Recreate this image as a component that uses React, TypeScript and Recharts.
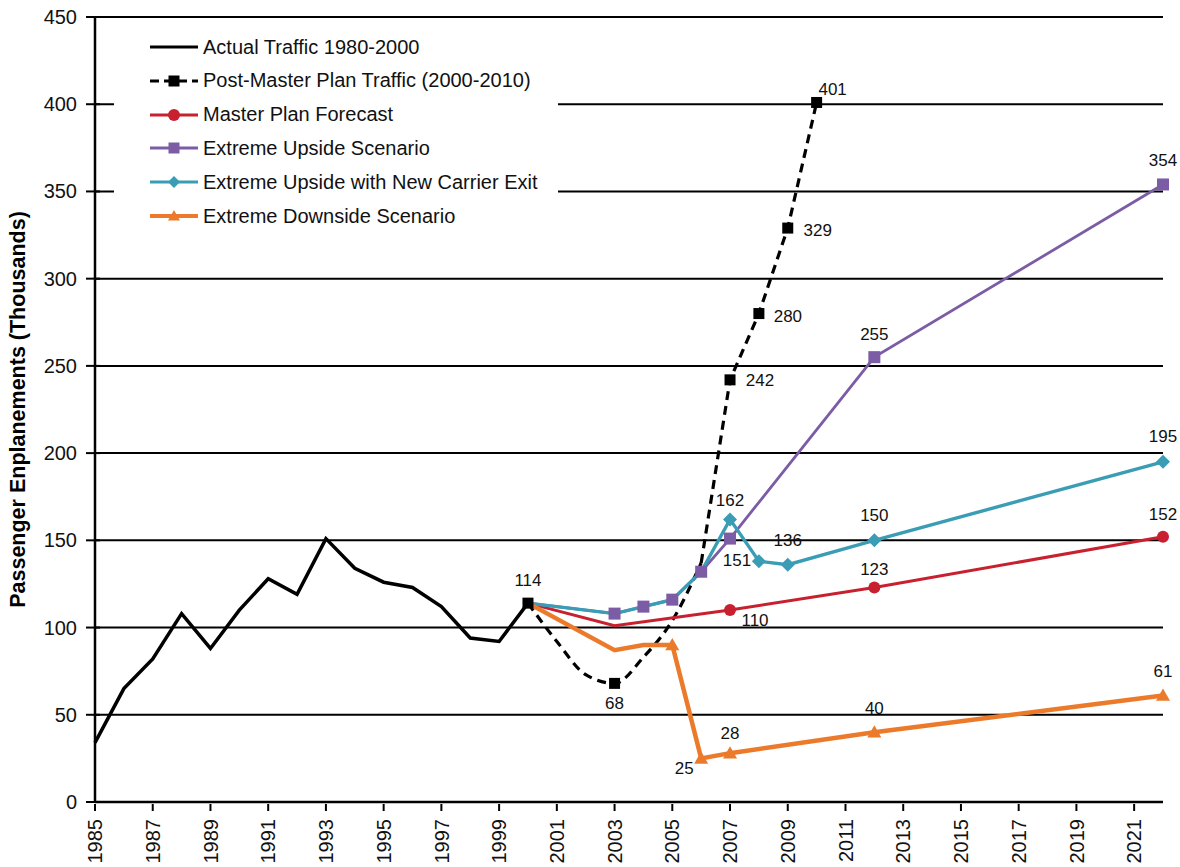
import React from 'react';
import { LineChart, Line, XAxis, YAxis, CartesianGrid } from 'recharts';

// ---- data ----
const actualYears = [1985, 1986, 1987, 1988, 1989, 1990, 1991, 1992, 1993, 1994, 1995, 1996, 1997, 1998, 1999, 2000];
const actualValues = [34, 65, 82, 108, 88, 110, 128, 119, 151, 134, 126, 123, 112, 94, 92, 114];

const postYears = [2000, 2001, 2002, 2003, 2004, 2005, 2006, 2007, 2008, 2009, 2010];
const postValues = [114, 92, 73, 68, 83, 104, 137, 242, 280, 329, 401];
const postMarked = [2000, 2003, 2007, 2008, 2009, 2010];

const masterYears = [2000, 2003, 2007, 2012, 2022];
const masterValues = [114, 101, 110, 123, 152];
const masterMarked = [2007, 2012, 2022];

const upsideYears = [2000, 2003, 2004, 2005, 2006, 2007, 2012, 2022];
const upsideValues = [114, 108, 112, 116, 132, 151, 255, 354];
const upsideMarked = [2003, 2004, 2005, 2006, 2007, 2012, 2022];

const exitYears = [2000, 2003, 2004, 2005, 2006, 2007, 2008, 2009, 2012, 2022];
const exitValues = [114, 108, 112, 116, 132, 162, 138, 136, 150, 195];
const exitMarked = [2007, 2008, 2009, 2012, 2022];

const downYears = [2000, 2003, 2004, 2005, 2006, 2007, 2012, 2022];
const downValues = [114, 87, 90, 90, 25, 28, 40, 61];
const downMarked = [2005, 2006, 2007, 2012, 2022];

const xTicks = [1985, 1987, 1989, 1991, 1993, 1995, 1997, 1999, 2001, 2003, 2005, 2007, 2009, 2011, 2013, 2015, 2017, 2019, 2021];
const yTicks = [0, 50, 100, 150, 200, 250, 300, 350, 400, 450];

const FONT = '"Liberation Sans", Arial, Helvetica, sans-serif';

type Shape = 'none' | 'square' | 'circle' | 'diamond' | 'triangle';
type LabelPos = Record<number, [number, number]>;
type Pt = { year: number; value: number };

interface Series {
  name: string;
  color: string;
  width: number;
  dash?: string;
  shape: Shape;
  size: number;
  marked: number[];
  labels: LabelPos;
  smoothUntil?: number; // curved up to this year, straight after
  data: Pt[];
}

const zip = (years: number[], values: number[]): Pt[] => years.map((year, i) => ({ year, value: values[i] }));

const series: Series[] = [
  {
    name: 'Actual Traffic 1980-2000', color: '#000', width: 3.5, shape: 'none', size: 0,
    marked: [], labels: {}, data: zip(actualYears, actualValues),
  },
  {
    name: 'Post-Master Plan Traffic (2000-2010)', color: '#000', width: 3.2, dash: '9 6', shape: 'square', size: 11,
    marked: postMarked, smoothUntil: 2006, data: zip(postYears, postValues),
    labels: { 2000: [0, -23], 2003: [0, 20], 2007: [30, 1], 2008: [29, 3], 2009: [30, 2], 2010: [16, -13] },
  },
  {
    name: 'Master Plan Forecast', color: '#c8202f', width: 3, shape: 'circle', size: 12,
    marked: masterMarked, data: zip(masterYears, masterValues),
    labels: { 2007: [25, 10], 2012: [0, -18], 2022: [0, -22] },
  },
  {
    name: 'Extreme Upside Scenario', color: '#7b5ca5', width: 2.8, shape: 'square', size: 12,
    marked: upsideMarked, data: zip(upsideYears, upsideValues),
    labels: { 2007: [7, 22], 2012: [0, -23], 2022: [0, -24] },
  },
  {
    name: 'Extreme Upside with New Carrier Exit', color: '#3a9db5', width: 3.4, shape: 'diamond', size: 14,
    marked: exitMarked, data: zip(exitYears, exitValues),
    labels: { 2007: [0, -19], 2009: [0, -24], 2012: [0, -25], 2022: [0, -25] },
  },
  {
    name: 'Extreme Downside Scenario', color: '#ec7a2b', width: 4.5, shape: 'triangle', size: 14,
    marked: downMarked, data: zip(downYears, downValues),
    labels: { 2006: [-17, 10], 2007: [0, -20], 2012: [0, -24], 2022: [0, -24] },
  },
];

function Marker({ shape, cx, cy, size, color }: { shape: Shape; cx: number; cy: number; size: number; color: string }) {
  const h = size / 2;
  if (shape === 'square') return <rect x={cx - h} y={cy - h} width={size} height={size} fill={color} />;
  if (shape === 'circle') return <circle cx={cx} cy={cy} r={h} fill={color} />;
  if (shape === 'diamond')
    return <polygon points={`${cx},${cy - h} ${cx + h},${cy} ${cx},${cy + h} ${cx - h},${cy}`} fill={color} />;
  if (shape === 'triangle')
    return <polygon points={`${cx},${cy - h} ${cx + h},${cy + h * 0.75} ${cx - h},${cy + h * 0.75}`} fill={color} />;
  return null;
}

// draws marker + value label for the points a segment owns
const makeDot = (s: Series, from: number, to: number) => (props: any) => {
  const { cx, cy, payload, index } = props;
  const year = payload?.year;
  const own = year >= from && year <= to;
  const lab = own ? s.labels[year] : undefined;
  return (
    <g key={`${s.name}-${from}-${index}`}>
      {own && s.marked.includes(year) && <Marker shape={s.shape} cx={cx} cy={cy} size={s.size} color={s.color} />}
      {lab && (
        <text x={cx + lab[0]} y={cy + lab[1]} textAnchor="middle" dominantBaseline="central"
          fontSize={17} fontFamily={FONT} fill="#111">
          {payload.value}
        </text>
      )}
    </g>
  );
};

const XTick = (props: any) => {
  const { x, y, payload } = props;
  return (
    <g>
      <line x1={x} x2={x} y1={y} y2={y + 7} stroke="#000" strokeWidth={2} />
      <text x={x} y={y + 15} transform={`rotate(-90 ${x} ${y + 15})`} textAnchor="end" dy="0.36em"
        fontSize={20} fontFamily={FONT} fill="#111">
        {payload.value}
      </text>
    </g>
  );
};

const YTick = (props: any) => {
  const { x, y, payload } = props;
  return (
    <g>
      <line x1={x - 7} x2={x + 7} y1={y} y2={y} stroke="#000" strokeWidth={2} />
      <text x={x - 16} y={y} textAnchor="end" dominantBaseline="central"
        fontSize={20} fontFamily={FONT} fill="#111">
        {payload.value}
      </text>
    </g>
  );
};

const YLabel = (props: any) => {
  const vb = props.viewBox || { x: 0, y: 17, width: 95, height: 785 };
  const cx = vb.x + 18;
  const cy = vb.y + vb.height / 2;
  return (
    <text x={cx} y={cy} transform={`rotate(-90 ${cx} ${cy})`} textAnchor="middle" dominantBaseline="central"
      fontSize={21.5} fontWeight="bold" fontFamily={FONT} fill="#000">
      Passenger Enplanements (Thousands)
    </text>
  );
};

function LegendBox() {
  return (
    <div style={{
      position: 'absolute', left: 114, top: 27, width: 444, height: 206, background: '#fff',
      fontFamily: FONT, fontSize: 20, color: '#111',
    }}>
      {series.map((s, i) => (
        <div key={s.name} style={{ position: 'absolute', left: 36, top: 3 + i * 33.8, height: 34, display: 'flex', alignItems: 'center' }}>
          <svg width={48} height={18} style={{ marginRight: 5 }}>
            <line x1={0} x2={48} y1={9} y2={9} stroke={s.color} strokeWidth={s.width > 4 ? 4 : 3.2}
              strokeDasharray={s.dash ? '9 5' : undefined} />
            <Marker shape={s.shape} cx={24} cy={9} size={s.shape === 'square' ? 11 : 12} color={s.color} />
          </svg>
          <span style={{ whiteSpace: 'nowrap' }}>{s.name}</span>
        </div>
      ))}
    </div>
  );
}

function seriesLines(s: Series) {
  const common = {
    dataKey: 'value',
    stroke: s.color,
    strokeWidth: s.width,
    strokeDasharray: s.dash,
    activeDot: false as const,
    isAnimationActive: false,
  };
  if (s.smoothUntil === undefined) {
    return [<Line key={s.name} {...common} name={s.name} data={s.data} type="linear" dot={makeDot(s, -Infinity, Infinity)} />];
  }
  const cut = s.smoothUntil;
  return [
    <Line key={s.name + '-a'} {...common} name={s.name} data={s.data.filter(p => p.year <= cut)} type="monotone"
      dot={makeDot(s, -Infinity, cut - 0.5)} />,
    <Line key={s.name + '-b'} {...common} name={s.name + ' '} data={s.data.filter(p => p.year >= cut)} type="linear"
      dot={makeDot(s, cut, Infinity)} />,
  ];
}

export default function App() {
  return (
    <div style={{ position: 'absolute', left: 0, top: 0, width: 1180, height: 867, background: '#fff', overflow: 'hidden' }}>
      <LineChart width={1180} height={867} margin={{ top: 17, right: 17, left: 0, bottom: 0 }}>
        <CartesianGrid vertical={false} stroke="#000" strokeWidth={2} horizontalValues={yTicks} />
        <XAxis
          type="number" dataKey="year" domain={[1985, 2022]} ticks={xTicks} interval={0}
          height={65} tickSize={0} tickLine={false} tick={(p: any) => <XTick {...p} />}
          axisLine={{ stroke: '#000', strokeWidth: 2.5 }}
        />
        <YAxis
          type="number" domain={[0, 450]} ticks={yTicks} interval={0} width={95}
          tickSize={0} tickLine={false} tick={(p: any) => <YTick {...p} />}
          axisLine={{ stroke: '#000', strokeWidth: 2.5 }}
          label={{ content: (p: any) => <YLabel {...p} /> }}
        />
        {series.flatMap(s => seriesLines(s))}
      </LineChart>
      <LegendBox />
    </div>
  );
}
